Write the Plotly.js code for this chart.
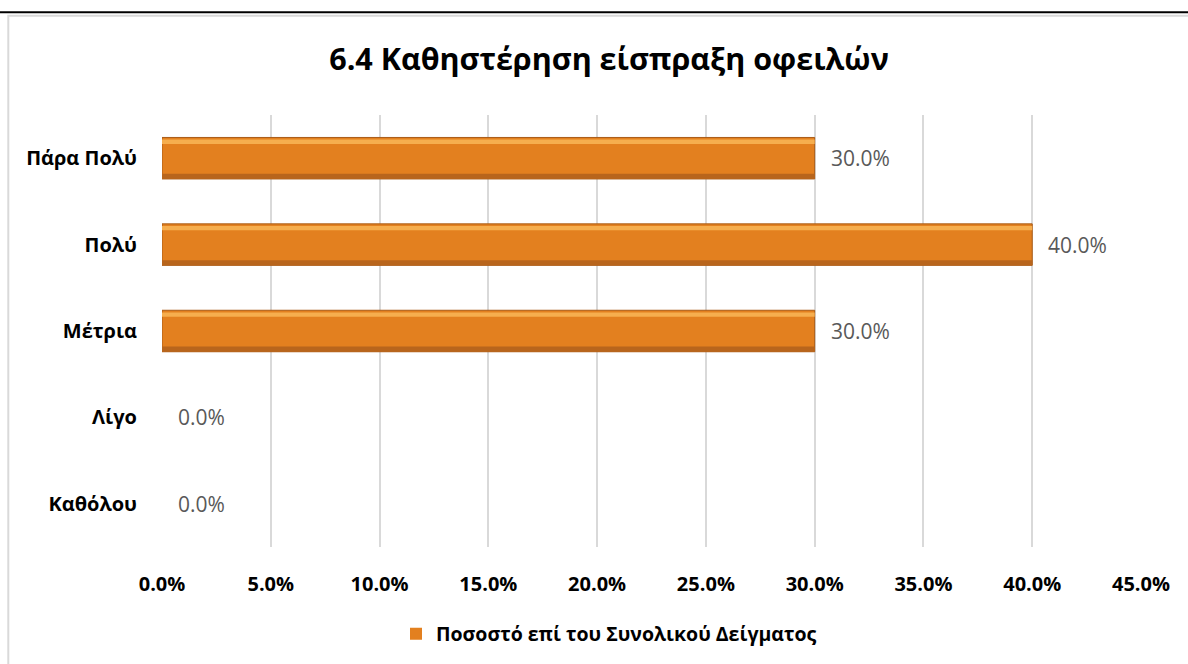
<!DOCTYPE html>
<html>
<head>
<meta charset="utf-8">
<script src="https://cdn.plot.ly/plotly-3.0.1.min.js"></script>
<style>
  html, body { margin: 0; padding: 0; background: #ffffff; }
  #chart { width: 1188px; height: 664px; }
</style>
</head>
<body>
<div id="chart"></div>
<script>
// ---- Data ----
const chartTitle = '6.4 Καθηστέρηση είσπραξη οφειλών';
const seriesName = 'Ποσοστό επί του Συνολικού Δείγματος';
// categories listed bottom -> top as Plotly draws them
const categories = ['Καθόλου', 'Λίγο', 'Μέτρια', 'Πολύ', 'Πάρα Πολύ'];
const values = [0.0, 0.0, 30.0, 40.0, 30.0];
const xTicks = [0, 5, 10, 15, 20, 25, 30, 35, 40, 45];
const xTickLabels = ['0.0%', '5.0%', '10.0%', '15.0%', '20.0%', '25.0%', '30.0%', '35.0%', '40.0%', '45.0%'];

const FONT = '"Open Sans", "Noto Sans", "DejaVu Sans", sans-serif';

// outline only on non-empty bars
const edgeColors = values.map(v => v > 0 ? '#A95B16' : 'rgba(0,0,0,0)');

// main bar
const mainBar = {
  type: 'bar', orientation: 'h', name: seriesName,
  x: values, y: categories,
  width: 0.48, offset: -0.24,
  marker: { color: '#E3801F', line: { color: edgeColors, width: 1 } },
  showlegend: true, hoverinfo: 'x+y'
};
// bevel: dark lower edge
const lowerEdge = {
  type: 'bar', orientation: 'h', name: seriesName,
  x: values, y: categories,
  width: 0.06, offset: -0.24,
  marker: { color: '#B8651C', line: { width: 0 } },
  showlegend: false, hoverinfo: 'skip'
};
// bevel: light upper highlight
const upperEdge = {
  type: 'bar', orientation: 'h', name: seriesName,
  x: values, y: categories,
  width: 0.05, offset: 0.165,
  marker: { color: '#F6AE4E', line: { width: 0 } },
  showlegend: false, hoverinfo: 'skip'
};

// value labels built from the data
const valueLabels = categories.map((c, i) => ({
  x: values[i], y: c, xref: 'x', yref: 'y',
  text: values[i].toFixed(1) + '%',
  showarrow: false, xanchor: 'left', yanchor: 'middle', xshift: 14,
  font: { family: FONT, size: 21, color: '#595959' }
}));

const layout = {
  width: 1188, height: 664,
  margin: { l: 162, r: 47, t: 115, b: 116, pad: 0 },
  paper_bgcolor: '#ffffff', plot_bgcolor: '#ffffff',
  barmode: 'overlay',
  title: {
    text: '<b>' + chartTitle + '</b>',
    font: { family: FONT, size: 30.5, color: '#000000' },
    xref: 'container', x: 609 / 1188, xanchor: 'center',
    yref: 'container', y: 1 - 59 / 664, yanchor: 'middle'
  },
  xaxis: {
    range: [0, 45], tickvals: xTicks, ticktext: xTickLabels,
    showgrid: true, gridcolor: '#D9D9D9', gridwidth: 2,
    zeroline: false, showline: false,
    ticks: 'outside', ticklen: 19, tickcolor: 'rgba(0,0,0,0)',
    tickfont: { family: FONT, size: 20, color: '#000000', weight: 'bold' },
    fixedrange: true
  },
  yaxis: {
    type: 'category', categoryorder: 'array', categoryarray: categories,
    range: [-0.5, 4.5],
    showgrid: false, zeroline: false, showline: false,
    ticks: 'outside', ticklen: 20, tickcolor: 'rgba(0,0,0,0)',
    tickfont: { family: FONT, size: 20, color: '#000000', weight: 'bold' },
    fixedrange: true
  },
  showlegend: true,
  legend: {
    orientation: 'h', xref: 'paper', x: (609 - 162) / 979, xanchor: 'center',
    y: (548 - 634) / 433, yanchor: 'middle',
    font: { family: FONT, size: 19.5, color: '#000000', weight: 'bold' },
    itemwidth: 30, tracegroupgap: 0
  },
  annotations: valueLabels,
  shapes: [
    { type: 'rect', xref: 'paper', yref: 'paper', layer: 'below',
      x0: (8.3 - 162) / 979, x1: 1.4, y0: -0.4, y1: (548 - 15.5) / 433,
      line: { color: '#D9D9D9', width: 2 }, fillcolor: 'rgba(0,0,0,0)' },
    { type: 'line', xref: 'paper', yref: 'paper', layer: 'above',
      x0: -0.3, x1: 1.4, y0: (548 - 12) / 433, y1: (548 - 12) / 433,
      line: { color: '#000000', width: 2 } }
  ]
};

Plotly.newPlot('chart', [mainBar, lowerEdge, upperEdge], layout, { displayModeBar: false, staticPlot: true });
</script>
</body>
</html>
